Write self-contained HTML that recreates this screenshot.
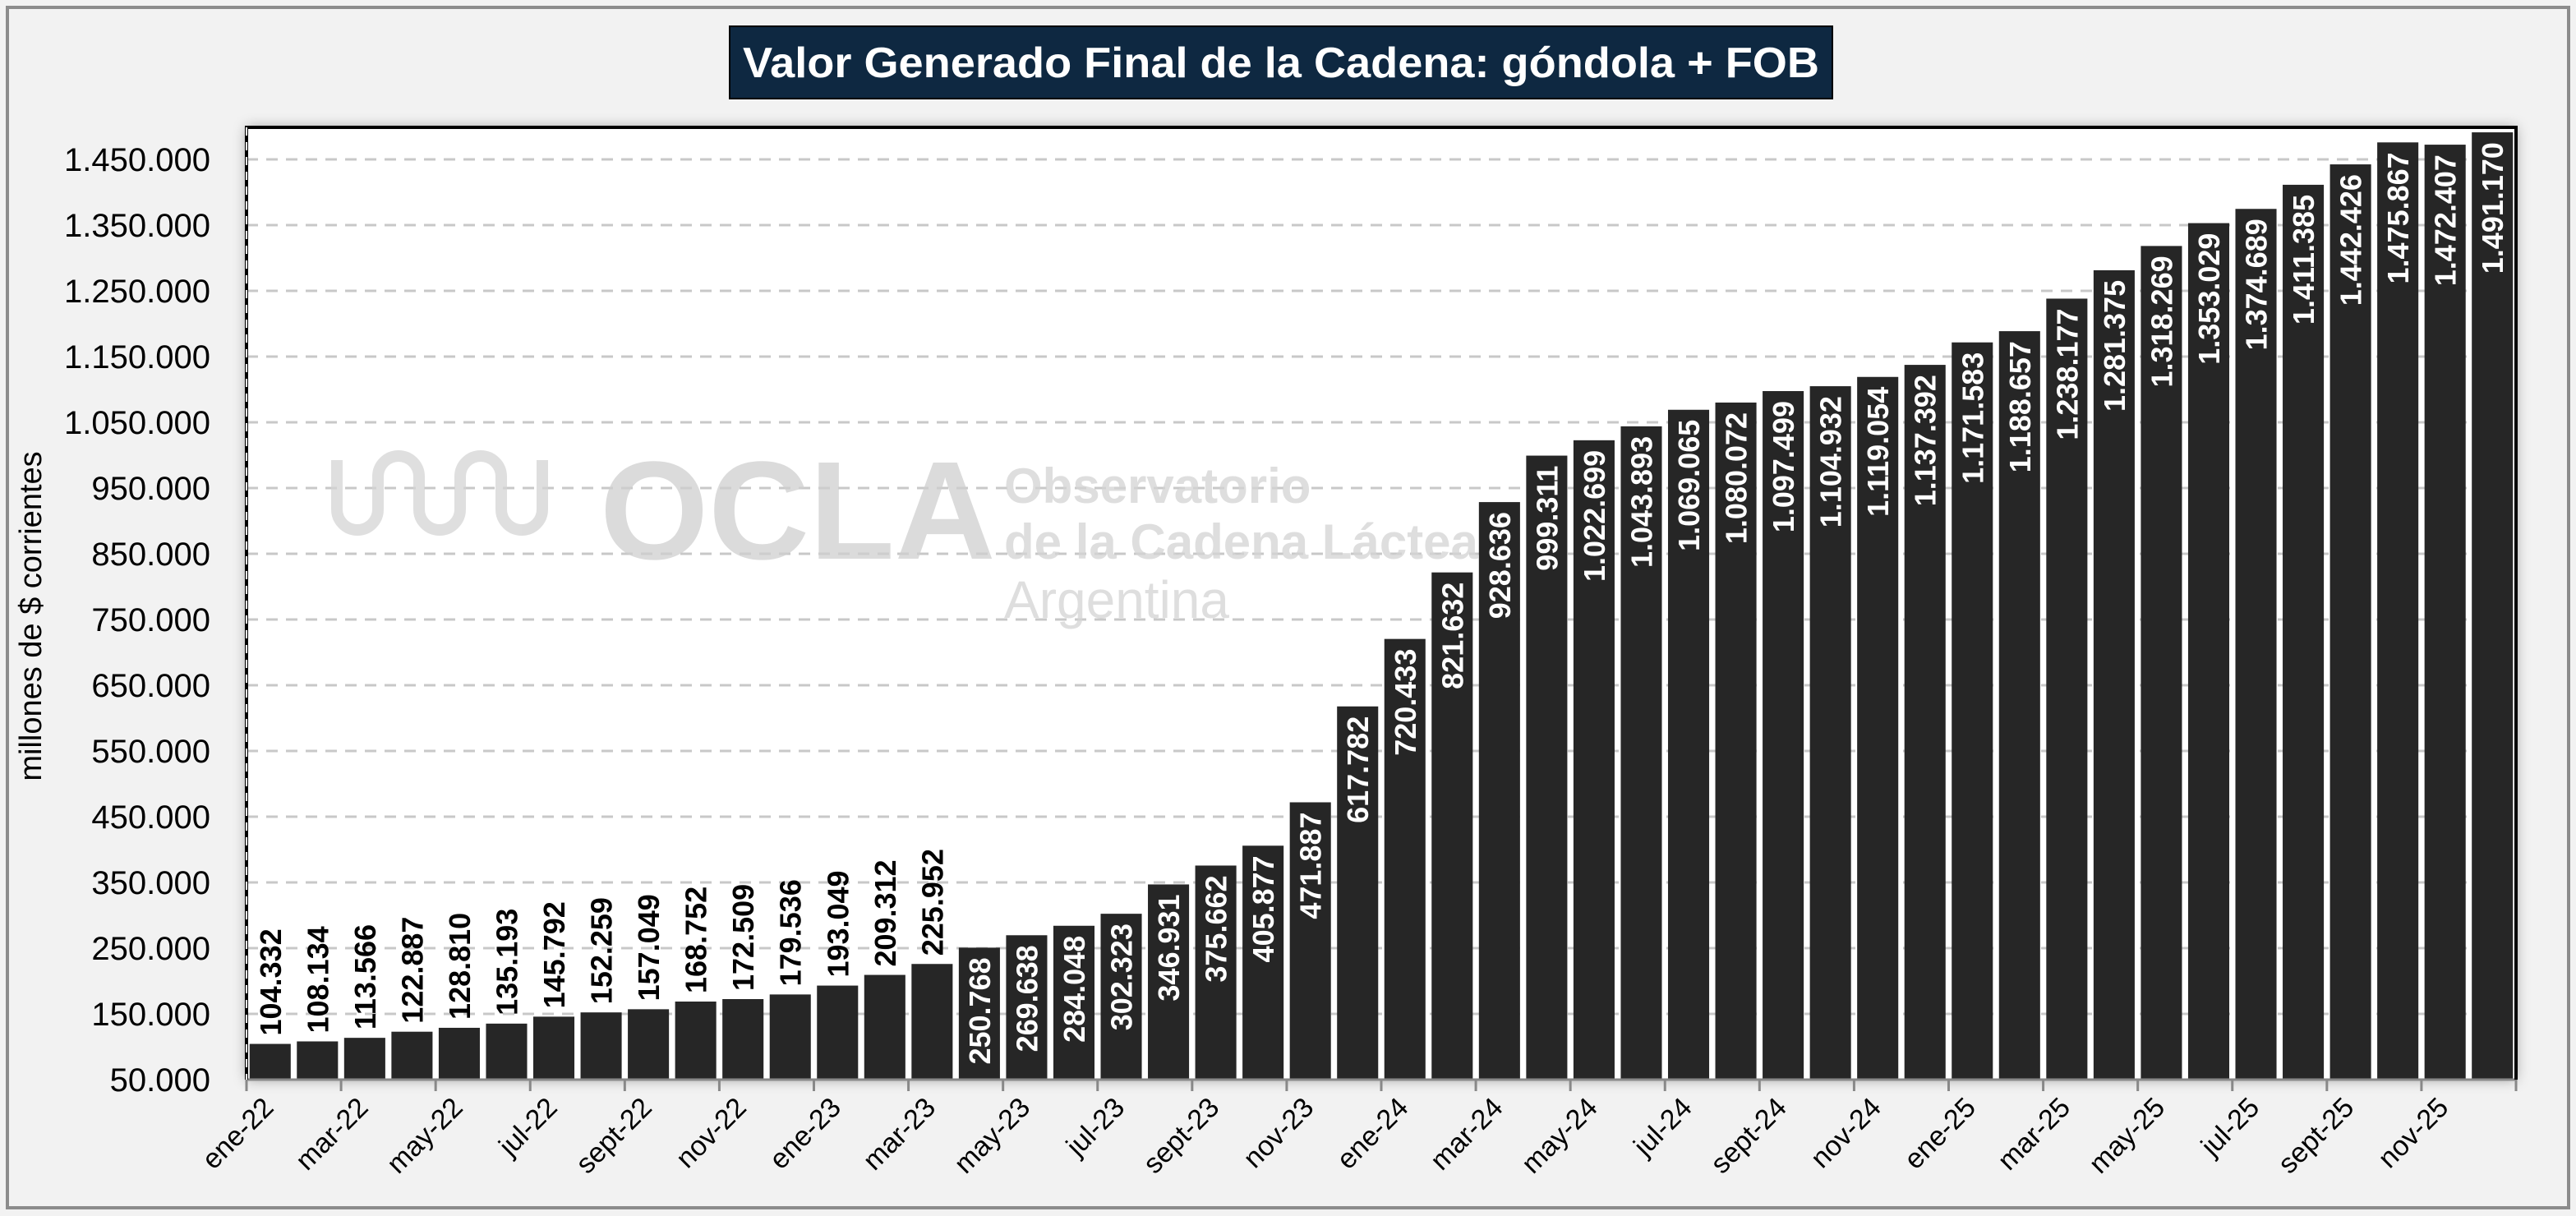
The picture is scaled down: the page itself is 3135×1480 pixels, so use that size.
<!DOCTYPE html>
<html><head><meta charset="utf-8"><style>
body{margin:0;background:#f2f2f2;}
svg{display:block;font-family:"Liberation Sans",sans-serif;}
</style></head><body>
<svg id="chart" width="3135" height="1480" viewBox="0 0 3135 1480" xmlns="http://www.w3.org/2000/svg">
<defs><filter id="sh" x="-5%" y="-5%" width="110%" height="110%"><feDropShadow dx="0" dy="0" stdDeviation="8" flood-color="#000" flood-opacity="0.35"/></filter></defs>
<rect x="9" y="9" width="3117" height="1461" fill="#f2f2f2" stroke="#8c8c8c" stroke-width="4"/>
<rect x="888" y="32" width="1342" height="88" fill="#0e2841" stroke="#000" stroke-width="2"/>
<text x="1559" y="94" text-anchor="middle" font-size="52" font-weight="bold" fill="#fff" textLength="1310" lengthAdjust="spacingAndGlyphs">Valor Generado Final de la Cadena: góndola + FOB</text>
<rect x="300" y="155" width="2762" height="1159" fill="#fff" filter="url(#sh)"/>
<g id="grid"></g>
<g id="bars"></g>
<g id="wm" opacity="0.75">
<text x="730" y="680" font-size="170" font-weight="bold" fill="#cfcfcf">OCLA</text>
<text x="1222" y="612" font-size="60" font-weight="bold" fill="#d4d4d4">Observatorio</text>
<text x="1222" y="680" font-size="60" font-weight="bold" fill="#d4d4d4">de la Cadena Láctea</text>
<text x="1222" y="752" font-size="64" fill="#d4d4d4">Argentina</text>
<path d="M410 560 v60 a25 25 0 0 0 50 0 v-40 a25 25 0 0 1 50 0 v40 a25 25 0 0 0 50 0 v-40 a25 25 0 0 1 50 0 v40 a25 25 0 0 0 50 0 v-60" fill="none" stroke="#d4d4d4" stroke-width="14"/>
</g>
<g id="axes"></g>
<text transform="translate(50,750) rotate(-90)" text-anchor="middle" font-size="38" fill="#000">millones de $ corrientes</text>
</svg>
<script>
const values=[104332,108134,113566,122887,128810,135193,145792,152259,157049,168752,172509,179536,193049,209312,225952,250768,269638,284048,302323,346931,375662,405877,471887,617782,720433,821632,928636,999311,1022699,1043893,1069065,1080072,1097499,1104932,1119054,1137392,1171583,1188657,1238177,1281375,1318269,1353029,1374689,1411385,1442426,1475867,1472407,1491170];
const months=["ene","feb","mar","abr","may","jun","jul","ago","sept","oct","nov","dic"];
const years=["22","23","24","25"];
const yTicks=[50000,150000,250000,350000,450000,550000,650000,750000,850000,950000,1050000,1150000,1250000,1350000,1450000];
const NS="http://www.w3.org/2000/svg";
const X0=300,X1=3062,Y0=1314,YMIN=50000,PXPER=80/100000;
const band=(X1-X0)/values.length;
function y(v){return Y0-(v-YMIN)*PXPER;}
function xc(i){return X0+band*(i+0.5);}
function fmt(v){return v.toString().replace(/\B(?=(\d{3})+(?!\d))/g,".");}
function mk(tag,attrs,parent){const e=document.createElementNS(NS,tag);for(const k in attrs)e.setAttribute(k,attrs[k]);parent.appendChild(e);return e;}
const grid=document.getElementById('grid'),bars=document.getElementById('bars'),axes=document.getElementById('axes');
yTicks.forEach(t=>{
  if(t>YMIN){const l=mk('line',{x1:X0,x2:X1,y1:y(t),y2:y(t),stroke:'#c8c8c8','stroke-width':3,'stroke-dasharray':'14 10'},grid);
  
  }
  const tx=mk('text',{x:256,y:y(t)+14,'text-anchor':'end','font-size':40,fill:'#000'},axes);
  tx.textContent=fmt(t);
  
  
});
values.forEach((v,i)=>{
  const bw=band*0.87;
  const r=mk('rect',{x:xc(i)-bw/2,y:y(v),width:bw,height:Y0-y(v),fill:'#262626'},bars);
  
  
  const inside=i>=15;
  const ty=inside?y(v)+12:y(v)-10;
  const t=mk('text',{transform:`translate(${xc(i)+13},${ty}) rotate(-90)`,'text-anchor':inside?'end':'start','font-size':36,'font-weight':'bold',fill:inside?'#fff':'#000'},bars);
  t.textContent=fmt(v);
  
  
  if(i%2===0){
    const lb=mk('text',{transform:`translate(${xc(i)+6},${Y0+36}) rotate(-45)`,'text-anchor':'end','font-size':34,fill:'#000'},axes);
    lb.textContent=months[i%12]+'-'+years[Math.floor(i/12)];
    
    
  }
});
for(let k=0;k<=values.length;k+=2){
  const tk=mk('line',{x1:X0+k*band,x2:X0+k*band,y1:Y0,y2:Y0+14,stroke:'#888','stroke-width':3},axes);
  
  
}
const b1=mk('line',{x1:X0,x2:X1,y1:Y0,y2:Y0,stroke:'#888','stroke-width':3},axes);


const b2=mk('path',{d:`M${X0} ${Y0} V155 H${X1} V${Y0}`,fill:'none',stroke:'#000','stroke-width':4},axes);


const b3=mk('line',{x1:X0,x2:X0,y1:155,y2:Y0,stroke:'#fff','stroke-width':2,'stroke-dasharray':'10 8'},axes);


</script>
</body></html>
